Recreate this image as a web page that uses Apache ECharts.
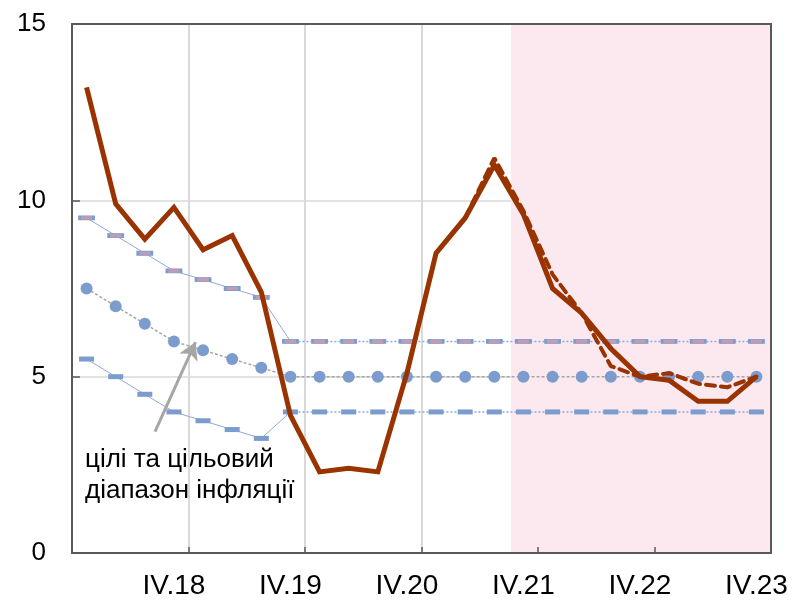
<!DOCTYPE html>
<html>
<head>
<meta charset="utf-8">
<script src="https://cdn.jsdelivr.net/npm/echarts@6/dist/echarts.min.js"></script>
<style>html,body{margin:0;padding:0;background:#fff;}#c{width:792px;height:603px;}</style>
</head>
<body>
<div id="c"></div>
<script>
const categories = ['I.18','II.18','III.18','IV.18','I.19','II.19','III.19','IV.19',
  'I.20','II.20','III.20','IV.20','I.21','II.21','III.21','IV.21',
  'I.22','II.22','III.22','IV.22','I.23','II.23','III.23','IV.23'];
const inflation = [13.2, 9.9, 8.9, 9.8, 8.6, 9.0, 7.4, 3.9, 2.3, 2.4, 2.3, 5.1,
  8.5, 9.5, 11.0, 9.6, 7.5, 6.8, 5.8, 5.0, 4.9, 4.3, 4.3, 5.0];
const prevForecast = [null, null, null, null, null, null, null, null, null, null, null, null,
  null, 9.5, 11.2, 9.7, 7.9, 6.8, 5.3, 5.0, 5.1, 4.8, 4.7, 5.0];
const target = [7.5, 7.0, 6.5, 6.0, 5.75, 5.5, 5.25, 5, 5, 5, 5, 5,
  5, 5, 5, 5, 5, 5, 5, 5, 5, 5, 5, 5];
const upperBand = [9.5, 9.0, 8.5, 8.0, 7.75, 7.5, 7.25, 6, 6, 6, 6, 6,
  6, 6, 6, 6, 6, 6, 6, 6, 6, 6, 6, 6];
const lowerBand = [5.5, 5.0, 4.5, 4.0, 3.75, 3.5, 3.25, 4, 4, 4, 4, 4,
  4, 4, 4, 4, 4, 4, 4, 4, 4, 4, 4, 4];
const yTicks = [0, 5, 10, 15];
const forecastStart = 14.57; // shaded forecast period start (category units)
const annotationText = 'цілі та цільовий\nдіапазон інфляції';
const arrowFrom = [2.35, 3.44];
const arrowTo = [3.74, 5.98];
const glideEnd = 7; // index where glide path ends

const firstPart = arr => arr.map((v, i) => i <= glideEnd ? v : null);
const secondPart = arr => arr.map((v, i) => i >= glideEnd ? v : null);

const FONT = 'Liberation Sans, Arial, sans-serif';
const BLUE = '#7b9ccc';
const THIN = '#8eaadb';
const RED = '#993300';
const FRAME = '#595959';
const yMin = yTicks[0], yMax = yTicks[yTicks.length - 1];

const frameY = pos => ({
  type: 'value', position: pos, min: yMin, max: yMax, interval: 5, z: 1,
  axisLine: {show: true, onZero: false, lineStyle: {color: FRAME, width: 2}},
  axisTick: {show: false}, axisLabel: {show: false}, splitLine: {show: false}
});

const chart = echarts.init(document.getElementById('c'), null, {renderer: 'canvas'});
chart.setOption({
  animation: false,
  backgroundColor: '#fff',
  grid: {left: 72, right: 21, top: 24, bottom: 50, show: false},
  xAxis: [{
    type: 'category',
    data: categories,
    boundaryGap: true,
    z: 1,
    axisLine: {onZero: false, lineStyle: {color: FRAME, width: 2}},
    axisTick: {show: true, inside: true, length: 6, interval: i => i % 4 === 0, lineStyle: {color: FRAME, width: 1.5}},
    axisLabel: {interval: i => i % 4 === 3, fontSize: 28, color: '#000', margin: 19, fontFamily: FONT},
    splitLine: {show: true, interval: i => i % 4 === 0, lineStyle: {color: '#d9d9d9', width: 2}}
  }, {
    type: 'value', min: -0.5, max: 23.5, show: false, splitLine: {show: false}
  }, {
    type: 'category', data: categories, position: 'top', z: 1,
    axisLine: {show: true, onZero: false, lineStyle: {color: FRAME, width: 2}},
    axisTick: {show: false}, axisLabel: {show: false}, splitLine: {show: false}
  }],
  yAxis: [{
    type: 'value', min: yMin, max: yMax, interval: 5,
    axisLine: {show: false, onZero: false},
    axisTick: {show: true, inside: true, length: 8, lineStyle: {color: FRAME, width: 1.5}},
    axisLabel: {fontSize: 26, color: '#000', margin: 26, fontFamily: FONT},
    splitLine: {show: true, lineStyle: {color: '#d9d9d9', width: 1.5}}
  }, frameY('left'), frameY('right')],
  series: [
    {
      type: 'line', xAxisIndex: 1, data: [], z: -1, silent: true,
      markArea: {silent: true, itemStyle: {color: '#fce9ef'}, data: [[{xAxis: forecastStart}, {xAxis: 23.5}]]}
    },
    {type: 'line', data: firstPart(upperBand), showSymbol: false, lineStyle: {color: THIN, width: 1}, z: 2, silent: true},
    {type: 'line', data: secondPart(upperBand), showSymbol: false, lineStyle: {color: THIN, width: 1.5, type: [2, 2]}, z: 2, silent: true},
    {type: 'line', data: firstPart(lowerBand), showSymbol: false, lineStyle: {color: THIN, width: 1}, z: 2, silent: true},
    {type: 'line', data: secondPart(lowerBand), showSymbol: false, lineStyle: {color: THIN, width: 1.5, type: [2, 2]}, z: 2, silent: true},
    {type: 'line', data: target, symbol: 'circle', symbolSize: 12, showAllSymbol: true,
      itemStyle: {color: BLUE}, lineStyle: {color: '#a6a6a6', width: 1.5, type: [3, 2]}, z: 3, silent: true},
    {type: 'line', data: upperBand, symbol: 'rect', symbolSize: [14, 4], showAllSymbol: true,
      itemStyle: {color: '#c49bb0', borderColor: BLUE, borderWidth: 1.5}, lineStyle: {width: 0}, z: 3, silent: true},
    {type: 'line', data: lowerBand, symbol: 'rect', symbolSize: [15, 5], showAllSymbol: true,
      itemStyle: {color: BLUE}, lineStyle: {width: 0}, z: 3, silent: true},
    {type: 'line', data: prevForecast, showSymbol: false, lineStyle: {color: RED, width: 4, type: [9, 6], cap: 'round'}, z: 5, silent: true},
    {type: 'line', data: inflation, showSymbol: false, lineStyle: {color: RED, width: 5, join: 'miter'}, z: 6, silent: true},
    {
      type: 'line', xAxisIndex: 1, data: [], z: 7, silent: true,
      markLine: {
        silent: true, symbol: ['none', 'arrow'], symbolSize: [15, 17],
        label: {show: false},
        lineStyle: {color: '#a6a6a6', width: 3, type: 'solid'},
        data: [[{coord: arrowFrom}, {coord: arrowTo}]]
      }
    }
  ],
  graphic: [{
    type: 'text', left: 85, top: 444,
    style: {text: annotationText, font: '26px ' + FONT, fill: '#000', lineHeight: 31}
  }]
});
</script>
</body>
</html>
